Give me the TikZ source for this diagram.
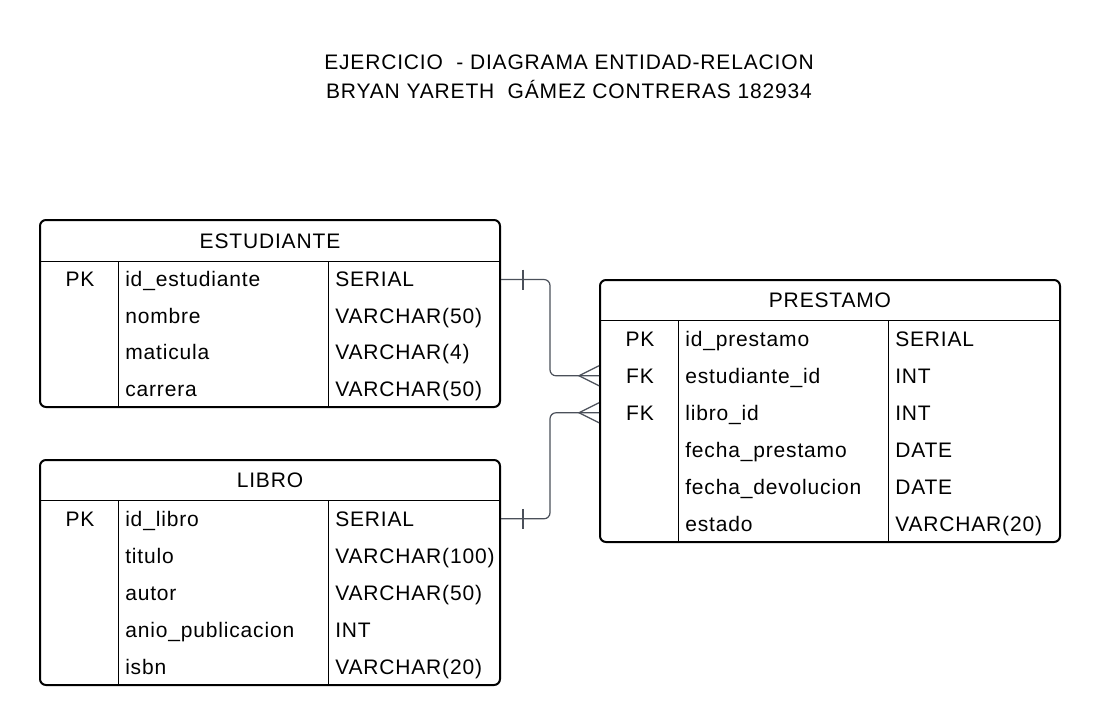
\documentclass[tikz,border=0pt]{standalone}
\usepackage{fontspec}
\setmainfont[LetterSpace=4]{Liberation Sans}
\usetikzlibrary{calc}
\definecolor{conncol}{HTML}{4B505A}
\tikzset{
  tbl/.style={draw=black, line width=1.5pt, rounded corners=4.5pt, inner sep=0pt, fill=none},
  inner/.style={draw=black, line width=0.75pt},
  txt/.style={inner sep=0pt, font=\fontsize{15.75}{18}\selectfont},
  lt/.style={txt, anchor=base west},
  ct/.style={txt, anchor=base},
  conn/.style={draw=conncol, line width=0.9pt, rounded corners=4.5pt},
  cardmark/.style={draw=conncol, line width=0.9pt},
}
\begin{document}
\begin{tikzpicture}[x=0.75pt, y=-0.75pt]
\useasboundingbox[fill=white] (0,0) rectangle (1100,725);
% title
\node[ct] (t1) at (569,69) {EJERCICIO \ - DIAGRAMA ENTIDAD-RELACION};
\node[ct] (t2) at (569,98) {BRYAN YARETH \ GÁMEZ CONTRERAS 182934};
% ESTUDIANTE
\node[tbl, minimum width=345pt, minimum height=140.25pt] (est) at (270,313.5) {};
\draw[inner] (40,261) -- (500,261);
\draw[inner] (118,261) -- (118,407);
\draw[inner] (328,261) -- (328,407);
\node[ct] (esth) at (270,248) {ESTUDIANTE};
\node[ct] (e1k) at (80,286.75) {PK};
\node[lt] (e1n) at (125,286.75) {id\_estudiante};
\node[lt] (e1t) at (335,286.75) {SERIAL};
\node[lt] (e2n) at (125,323.25) {nombre};
\node[lt] (e2t) at (335,323.25) {VARCHAR(50)};
\node[lt] (e3n) at (125,359.75) {maticula};
\node[lt] (e3t) at (335,359.75) {VARCHAR(4)};
\node[lt] (e4n) at (125,396.25) {carrera};
\node[lt] (e4t) at (335,396.25) {VARCHAR(50)};
% LIBRO
\node[tbl, minimum width=345pt, minimum height=168.75pt] (lib) at (270,572.5) {};
\draw[inner] (40,500) -- (500,500);
\draw[inner] (118,500) -- (118,685);
\draw[inner] (328,500) -- (328,685);
\node[ct] (libh) at (270,487.5) {LIBRO};
\node[ct] (l1k) at (80,526) {PK};
\node[lt] (l1n) at (125,526) {id\_libro};
\node[lt] (l1t) at (335,526) {SERIAL};
\node[lt] (l2n) at (125,563) {titulo};
\node[lt] (l2t) at (335,563) {VARCHAR(100)};
\node[lt] (l3n) at (125,600) {autor};
\node[lt] (l3t) at (335,600) {VARCHAR(50)};
\node[lt] (l4n) at (125,637) {anio\_publicacion};
\node[lt] (l4t) at (335,637) {INT};
\node[lt] (l5n) at (125,674) {isbn};
\node[lt] (l5t) at (335,674) {VARCHAR(20)};
% PRESTAMO
\node[tbl, minimum width=345pt, minimum height=196.5pt] (pre) at (830,411) {};
\draw[inner] (600,320) -- (1060,320);
\draw[inner] (678,320) -- (678,542);
\draw[inner] (888,320) -- (888,542);
\node[ct] (preh) at (830,307.5) {PRESTAMO};
\node[ct] (p1k) at (640,346) {PK};
\node[lt] (p1n) at (685,346) {id\_prestamo};
\node[lt] (p1t) at (895,346) {SERIAL};
\node[ct] (p2k) at (640,383) {FK};
\node[lt] (p2n) at (685,383) {estudiante\_id};
\node[lt] (p2t) at (895,383) {INT};
\node[ct] (p3k) at (640,420) {FK};
\node[lt] (p3n) at (685,420) {libro\_id};
\node[lt] (p3t) at (895,420) {INT};
\node[lt] (p4n) at (685,457) {fecha\_prestamo};
\node[lt] (p4t) at (895,457) {DATE};
\node[lt] (p5n) at (685,494) {fecha\_devolucion};
\node[lt] (p5t) at (895,494) {DATE};
\node[lt] (p6n) at (685,531) {estado};
\node[lt] (p6t) at (895,531) {VARCHAR(20)};
% connectors
\coordinate (mid) at (550,0);
\coordinate (A) at (est.east |- e1k);
\coordinate (B) at (pre.west |- p2k);
\coordinate (C) at (lib.east |- l1k);
\coordinate (D) at (pre.west |- p3k);
\draw[conn] (A) -- (A -| mid) -- (B -| mid) -- (B);
\draw[conn] (C) -- (C -| mid) -- (D -| mid) -- (D);
% one marks
\draw[cardmark] ($(A)+(22,-10)$) -- ($(A)+(22,10)$);
\draw[cardmark] ($(C)+(22,-10)$) -- ($(C)+(22,10)$);
% many marks
\draw[cardmark] ($(B)+(0,-10)$) -- ($(B)+(-20,0)$) -- ($(B)+(0,10)$);
\draw[cardmark] ($(D)+(0,-10)$) -- ($(D)+(-20,0)$) -- ($(D)+(0,10)$);
\end{tikzpicture}
\end{document}
